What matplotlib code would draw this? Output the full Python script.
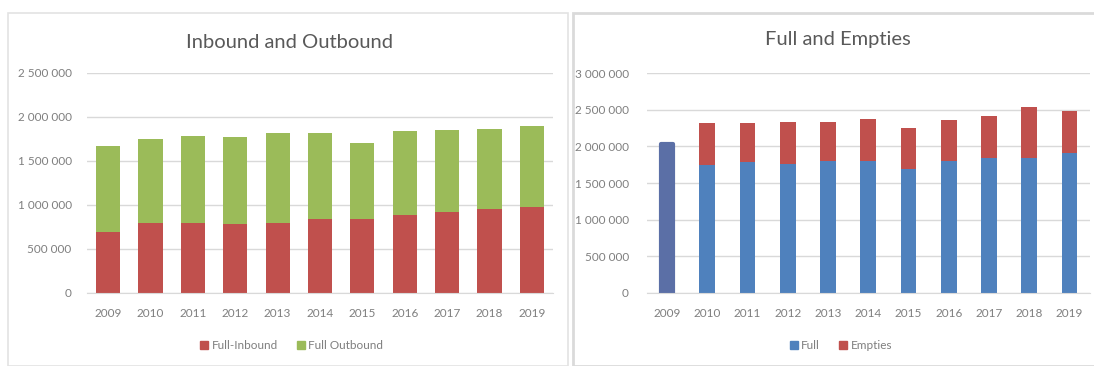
import matplotlib
matplotlib.use("Agg")
import matplotlib.pyplot as plt
from matplotlib.patches import Rectangle, Patch
from matplotlib.ticker import FuncFormatter, MultipleLocator

plt.rcParams['font.family'] = ['Lato', 'DejaVu Sans']

years = ["2009", "2010", "2011", "2012", "2013", "2014",
         "2015", "2016", "2017", "2018", "2019"]

# Inbound / outbound split (TEU)
full_inbound = [693000, 788000, 788000, 780000, 788000, 837000,
                837000, 886000, 917000, 955000, 970000]
io_total = [1667000, 1750000, 1784000, 1773000, 1815000, 1815000,
            1701000, 1834000, 1845000, 1857000, 1891000]
full_outbound = [t - i for t, i in zip(io_total, full_inbound)]

# Full / empty split (TEU); 2009 only has a single total
full = [2031000, 1740000, 1790000, 1758000, 1799000, 1799000,
        1686000, 1803000, 1844000, 1844000, 1904000]
fe_total = [2031000, 2314000, 2322000, 2336000, 2336000, 2373000,
            2254000, 2359000, 2414000, 2533000, 2486000]
empties = [t - f for t, f in zip(fe_total, full)]

RED = "#C0504D"
GREEN = "#9BBB59"
BLUE = "#4F81BD"
SLATE = "#5B6FA6"
GRID = "#D9D9D9"
TICK = "#7F7F7F"
TITLE = "#595959"

W, H = 1094, 366
fig = plt.figure(figsize=(W / 100, H / 100), dpi=100)

# chart-area frames
fig.patches.append(Rectangle((8 / W, 0), 560 / W, 1 - 12.5 / H,
                             transform=fig.transFigure, fill=False,
                             edgecolor="#E3E3E3", linewidth=1.2))
fig.patches.append(Rectangle((573 / W, 0), 530 / W, 1 - 13 / H,
                             transform=fig.transFigure, fill=False,
                             edgecolor="#DADADA", linewidth=2.0))

fmt = FuncFormatter(lambda v, _: f"{v:,.0f}".replace(",", " "))


def style(ax, ymax):
    ax.set_xlim(-0.5, len(years) - 0.5)
    ax.set_ylim(0, ymax)
    ax.yaxis.set_major_locator(MultipleLocator(500000))
    ax.yaxis.set_major_formatter(fmt)
    ax.set_xticks(range(len(years)))
    ax.set_xticklabels(years)
    ax.grid(axis="y", color=GRID, linewidth=1.0)
    ax.set_axisbelow(True)
    for s in ("top", "right", "left"):
        ax.spines[s].set_visible(False)
    ax.spines["bottom"].set_color(GRID)
    ax.tick_params(axis="both", length=0, colors=TICK, labelsize=8.5)
    ax.tick_params(axis="y", pad=11)
    ax.tick_params(axis="x", pad=11)


x = list(range(len(years)))

# Left: inbound and outbound
ax1 = fig.add_axes([87 / W, 1 - 292.7 / H, 466 / W, 220 / H])
ax1.bar(x, full_inbound, width=0.57, color=RED, label="Full-Inbound")
ax1.bar(x, full_outbound, width=0.57, bottom=full_inbound, color=GREEN,
        label="Full Outbound")
style(ax1, 2500000)
fig.text(289 / W, 1 - 42 / H, "Inbound and Outbound", ha="center",
         va="center", fontsize=14.5, color=TITLE)
fig.legend(handles=[Patch(color=RED, label="Full-Inbound"),
                    Patch(color=GREEN, label="Full Outbound")],
           loc="center", bbox_to_anchor=(291.5 / W, 1 - 345.5 / H),
           ncol=2, frameon=False, fontsize=8.5, labelcolor=TICK,
           handlelength=0.7, handleheight=0.7, handletextpad=0.3,
           columnspacing=1.6)

# Right: full and empties
ax2 = fig.add_axes([647 / W, 1 - 292.7 / H, 442.5 / W, 219.4 / H])
ax2.bar(x[:1], full[:1], width=0.3, color=SLATE, edgecolor=SLATE,
        linewidth=3, joinstyle="round")
ax2.bar(x[1:], full[1:], width=0.39, color=BLUE, label="Full")
ax2.bar(x[1:], empties[1:], width=0.39, bottom=full[1:], color=RED,
        label="Empties")
style(ax2, 3000000)
ax2.tick_params(axis="y", pad=13)
fig.text(837.5 / W, 1 - 40 / H, "Full and Empties", ha="center",
         va="center", fontsize=14.5, color=TITLE)
fig.legend(handles=[Patch(color=BLUE, label="Full"),
                    Patch(color=RED, label="Empties")],
           loc="center", bbox_to_anchor=(841 / W, 1 - 345.5 / H),
           ncol=2, frameon=False, fontsize=8.5, labelcolor=TICK,
           handlelength=0.7, handleheight=0.7, handletextpad=0.3,
           columnspacing=1.6)

fig.savefig("out.png", dpi=100)
